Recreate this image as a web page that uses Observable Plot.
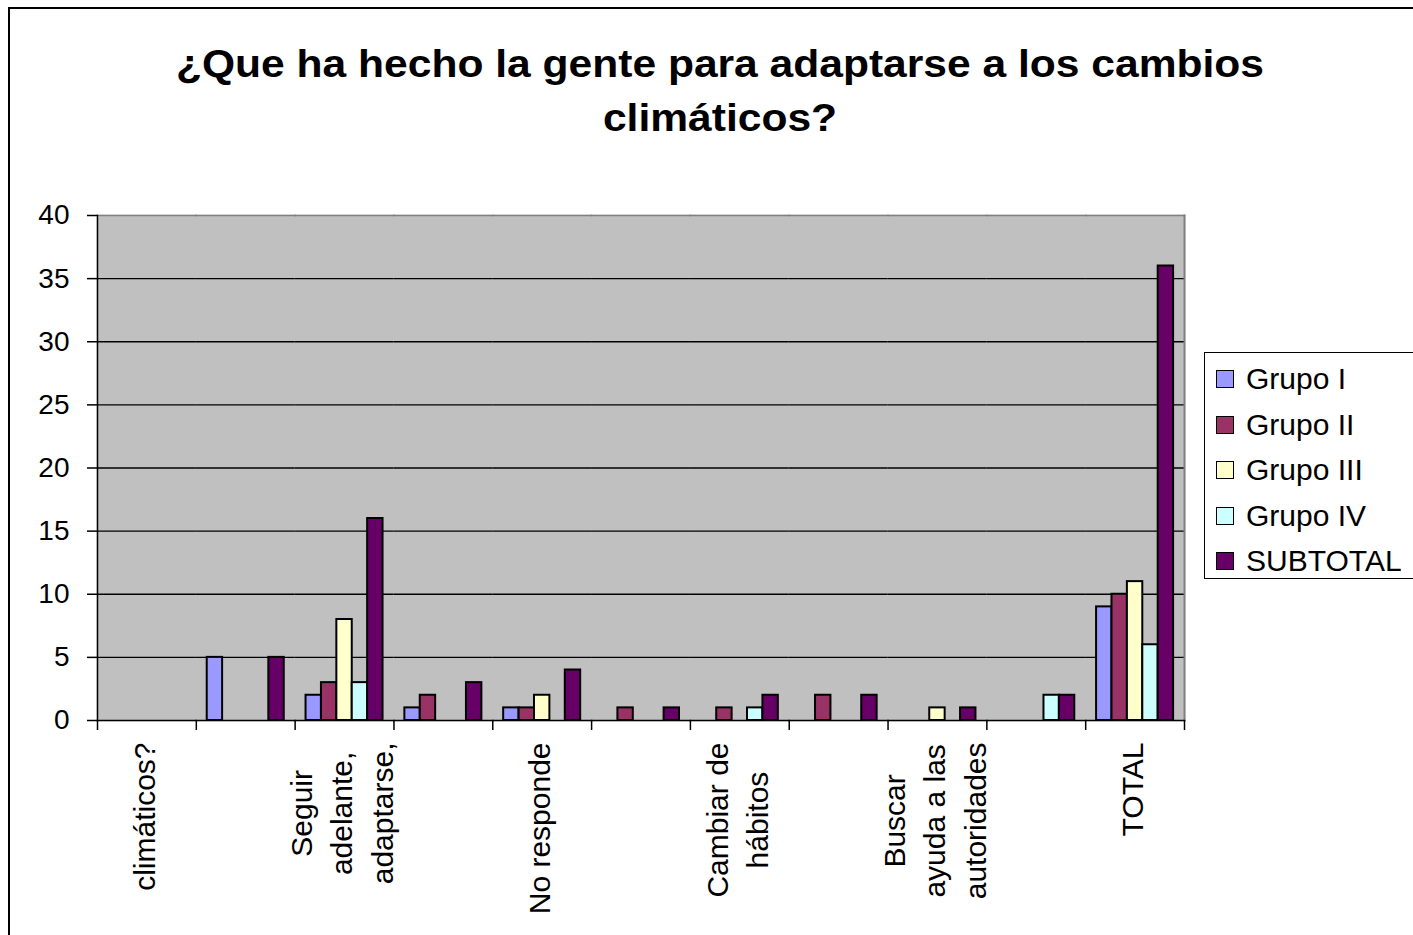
<!DOCTYPE html>
<html>
<head>
<meta charset="utf-8">
<script src="https://cdn.jsdelivr.net/npm/d3@7"></script>
<script src="https://cdn.jsdelivr.net/npm/@observablehq/plot@0.6"></script>
<style>
  html, body { margin: 0; padding: 0; background: #fff; overflow: hidden; }
  #wrap { position: relative; width: 1413px; height: 935px; overflow: hidden;
          font-family: "Liberation Sans", Arial, sans-serif; color: #000; }
  #border { position: absolute; left: 8px; top: 7px; width: 1600px; height: 1100px;
            border-left: 2px solid #000; border-top: 2px solid #000; }
  #title { position: absolute; left: 0; top: 37px; width: 1440px; text-align: center;
           font-weight: bold; font-size: 38px; line-height: 54px; white-space: nowrap;
           transform: scaleX(1.12); transform-origin: 720px 0; }
  #chart { position: absolute; left: 0; top: 190px; }
  #legend { position: absolute; left: 1204px; top: 352px; width: 260px; height: 225px;
            border: 1px solid #000; background: #fff; }
  .item { position: absolute; left: 11px; height: 30px; display: flex; align-items: center;
          font-size: 30px; white-space: nowrap; }
  .sw { width: 16px; height: 16px; border: 1px solid #000; margin-right: 12px; }
</style>
</head>
<body>
<div id="wrap">
  <div id="border"></div>
  <div id="title">¿Que ha hecho la gente para adaptarse a los cambios<br>climáticos?</div>
  <div id="chart"></div>
  <div id="legend"></div>
</div>
<script>
// ---- data ----
const categories = [
  "climáticos?", "Categoría 2", "Seguir adelante, adaptarse,", "Categoría 4",
  "No responde", "Categoría 6", "Cambiar de hábitos", "Categoría 8",
  "Buscar ayuda a las autoridades", "Categoría 10", "TOTAL"
];
const tickLabels = [
  "climáticos?", "", "Seguir\nadelante,\nadaptarse,", "",
  "No responde", "", "Cambiar de\nhábitos", "",
  "Buscar\nayuda a las\nautoridades", "", "TOTAL"
];
const groups = ["Grupo I", "Grupo II", "Grupo III", "Grupo IV", "SUBTOTAL"];
const grupoI   = [0, 5, 2, 1, 1, 0, 0, 0, 0, 0, 9];
const grupoII  = [0, 0, 3, 2, 1, 1, 1, 2, 0, 0, 10];
const grupoIII = [0, 0, 8, 0, 2, 0, 0, 0, 1, 0, 11];
const grupoIV  = [0, 0, 3, 0, 0, 0, 1, 0, 0, 2, 6];
const subtotal = [0, 5, 16, 3, 4, 1, 2, 2, 1, 2, 36];
const colors = ["#9999FF", "#993366", "#FFFFCC", "#CCFFFF", "#660066"];
const yTicks = [0, 5, 10, 15, 20, 25, 30, 35, 40];

const series = [grupoI, grupoII, grupoIII, grupoIV, subtotal];
const data = categories.flatMap((c, i) =>
  groups.map((g, j) => ({cat: c, group: g, value: series[j][i]})));

// ---- layout ----
const W = 1413, H = 745, ML = 97, MR = 229, MT = 25, MB = 215;
const fw = (W - ML - MR) / categories.length;
const FONT = '"Liberation Sans", Arial, sans-serif';
const labelSize = 30;
const ctx = document.createElement("canvas").getContext("2d");
ctx.font = `${labelSize}px ${FONT}`;

const labelMarks = categories.map((c, i) => {
  const t = tickLabels[i];
  if (!t) return null;
  const maxW = d3.max(t.split("\n"), s => ctx.measureText(s).width);
  return Plot.text([c], {
    fx: d => d, text: () => t, frameAnchor: "bottom", rotate: -90,
    textAnchor: "middle", lineAnchor: "middle", lineHeight: 1.34,
    fontSize: labelSize, fill: "black", dx: -5, dy: 22 + maxW / 2
  });
}).filter(Boolean);

const chart = Plot.plot({
  width: W, height: H,
  marginLeft: ML, marginRight: MR, marginTop: MT, marginBottom: MB,
  style: {fontFamily: FONT, fontSize: "28px", color: "black", background: "transparent", overflow: "visible"},
  fx: {domain: categories, padding: 0, round: false},
  x: {domain: groups, paddingInner: 0, paddingOuter: 0.708, round: false, axis: null},
  y: {domain: [0, 40]},
  color: {domain: groups, range: colors},
  marks: [
    Plot.frame({fill: "#c0c0c0", stroke: "#c0c0c0", strokeWidth: 1.5}),
    Plot.ruleY(yTicks.slice(1, -1), {stroke: "black", strokeWidth: 1.4}),
    Plot.frame({anchor: "top", stroke: "#808080", strokeWidth: 1.5}),
    Plot.frame({anchor: "right", facetAnchor: "right", stroke: "#808080", strokeWidth: 2}),
    Plot.barY(data.filter(d => d.value > 0), {
      fx: "cat", x: "group", y: "value", fill: "group",
      stroke: "black", strokeWidth: 2
    }),
    Plot.frame({anchor: "bottom", stroke: "black", strokeWidth: 1.5}),
    Plot.frame({anchor: "left", facetAnchor: "left", stroke: "black", strokeWidth: 1.5}),
    Plot.axisY({ticks: yTicks, tickSize: 10, tickPadding: 18, fontSize: 28, label: null, strokeWidth: 1.5}),
    Plot.axisFx({anchor: "bottom", tickSize: 10, tickFormat: () => "", label: null, dx: -fw / 2, strokeWidth: 1.5}),
    Plot.axisFx({anchor: "bottom", ticks: [categories[categories.length - 1]], tickSize: 10,
                 tickFormat: () => "", label: null, dx: fw / 2, strokeWidth: 1.5}),
    ...labelMarks
  ]
});
document.getElementById("chart").appendChild(chart);

// ---- legend ----
const legend = document.getElementById("legend");
groups.forEach((g, i) => {
  const it = document.createElement("div");
  it.className = "item";
  it.style.top = (11 + i * 45.5) + "px";
  const sw = document.createElement("div");
  sw.className = "sw";
  sw.style.background = colors[i];
  const tx = document.createElement("span");
  tx.textContent = g;
  it.appendChild(sw); it.appendChild(tx);
  legend.appendChild(it);
});
</script>
</body>
</html>
